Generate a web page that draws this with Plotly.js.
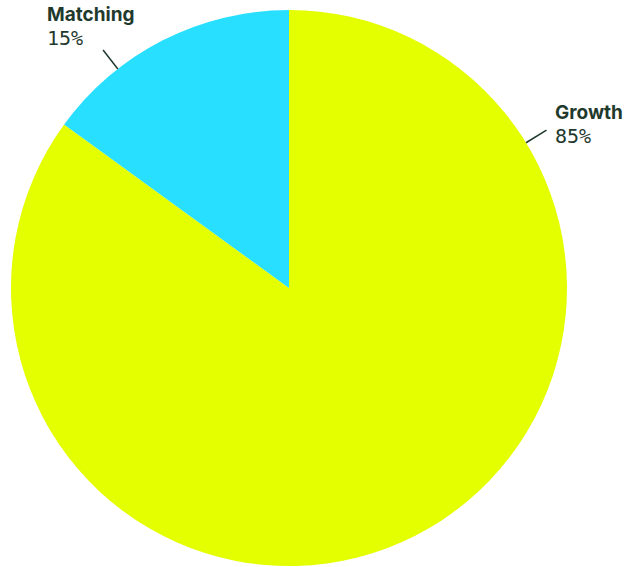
<!DOCTYPE html>
<html>
<head>
<meta charset="utf-8">
<script src="https://cdn.plot.ly/plotly-3.0.1.min.js"></script>
<style>html,body{margin:0;padding:0;background:#fff;}#chart{width:628px;height:567px;}</style>
</head>
<body>
<div id="chart"></div>
<script>
// Data
const categories = ["Growth", "Matching"];
const values = [85, 15];
const percentLabels = ["85%", "15%"];
const colors = ["#e4ff00", "#29dfff"];

// Layout geometry (pixels)
const W = 628, H = 567;
const cx = 289, cy = 288, R = 278;
const labelAngles = [31.5, 128];   // degrees, where leader lines leave the pie
const lineLen = 24;
const textColor = "#1f3a2d";

function px(x) { return x / W; }
function py(y) { return 1 - y / H; }

const shapes = [];
const annotations = [];
categories.forEach((c, i) => {
  const a = labelAngles[i] * Math.PI / 180;
  const x0 = cx + R * Math.cos(a), y0 = cy - R * Math.sin(a);
  const x1 = cx + (R + lineLen) * Math.cos(a), y1 = cy - (R + lineLen) * Math.sin(a);
  shapes.push({type: "line", xref: "paper", yref: "paper",
    x0: px(x0), y0: py(y0), x1: px(x1), y1: py(y1),
    line: {color: textColor, width: 1.5}});
  const right = Math.cos(a) > 0;
  let tx, ty;
  if (right) { tx = x1 + 7; ty = y1 - 18; }
  else { tx = x1 - 58; ty = y1 - 36; }
  annotations.push({xref: "paper", yref: "paper", x: px(tx), y: py(ty),
    xanchor: "left", yanchor: "middle", showarrow: false,
    text: "<b>" + c + "</b>",
    font: {family: "Inter, 'Noto Sans', sans-serif", size: 19, weight: 800, color: textColor}});
  annotations.push({xref: "paper", yref: "paper", x: px(tx), y: py(ty + 24),
    xanchor: "left", yanchor: "middle", showarrow: false,
    text: percentLabels[i],
    font: {family: "'DejaVu Sans Mono', monospace", size: 20, color: textColor}});
});

const trace = {
  type: "pie",
  labels: categories,
  values: values,
  sort: false,
  direction: "clockwise",
  rotation: 0,
  textinfo: "none",
  hoverinfo: "label+percent",
  marker: {colors: colors, line: {width: 0}},
  domain: {x: [(cx - R) / W, (cx + R) / W], y: [1 - (cy + R) / H, 1 - (cy - R) / H]},
  showlegend: false
};

const layout = {
  width: W, height: H,
  margin: {l: 0, r: 0, t: 0, b: 0},
  paper_bgcolor: "#fff",
  showlegend: false,
  shapes: shapes,
  annotations: annotations
};

Plotly.newPlot("chart", [trace], layout, {displayModeBar: false, staticPlot: true});
</script>
</body>
</html>
